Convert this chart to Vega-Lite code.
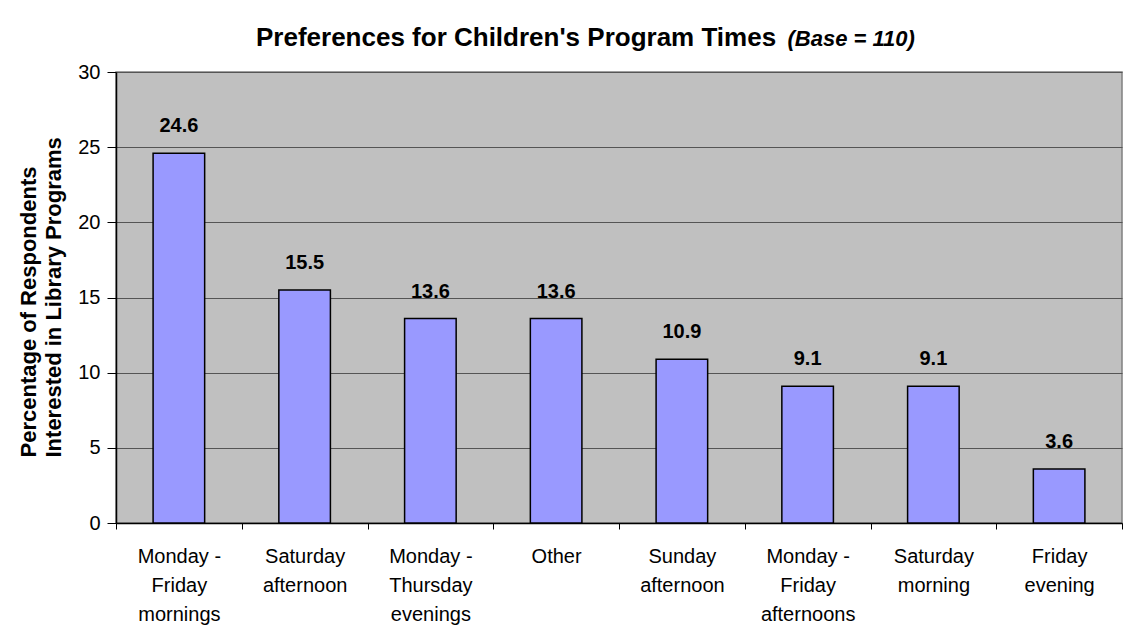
{
  "$schema": "https://vega.github.io/schema/vega-lite/v6.json",
  "autosize": "none",
  "width": 1006,
  "height": 451,
  "padding": {"left": 116, "top": 72, "right": 11, "bottom": 112},
  "background": "white",
  "title": {
    "text": "Preferences for Children's Program Times",
    "anchor": "start",
    "frame": "group",
    "dx": 140,
    "dy": 35,
    "offset": 11,
    "font": "Liberation Sans",
    "fontSize": 26,
    "fontWeight": "bold",
    "color": "black"
  },
  "data": {
    "values": [
      {"time": "Monday -|Friday|mornings", "pct": 24.6},
      {"time": "Saturday|afternoon", "pct": 15.5},
      {"time": "Monday -|Thursday|evenings", "pct": 13.6},
      {"time": "Other", "pct": 13.6},
      {"time": "Sunday|afternoon", "pct": 10.9},
      {"time": "Monday -|Friday|afternoons", "pct": 9.1},
      {"time": "Saturday|morning", "pct": 9.1},
      {"time": "Friday|evening", "pct": 3.6}
    ]
  },
  "encoding": {
    "y": {
      "field": "pct",
      "type": "quantitative",
      "scale": {"domain": [0, 30], "nice": false},
      "axis": {
        "title": ["Percentage of Respondents", "Interested in Library Programs"],
        "titleFont": "Liberation Sans",
        "titleFontSize": 22,
        "titleFontWeight": "bold",
        "titleColor": "black",
        "titleLineHeight": 25,
        "titlePadding": 12,
        "titleAlign": "left",
        "titleY": 385,
        "values": [0, 5, 10, 15, 20, 25, 30],
        "labelFont": "Liberation Sans",
        "labelFontSize": 20,
        "labelColor": "black",
        "labelPadding": 7,
        "tickSize": 9,
        "tickColor": "black",
        "domainColor": "black",
        "domainWidth": 1.5,
        "grid": true,
        "gridColor": "#555555",
        "gridWidth": 1.2
      }
    }
  },
  "layer": [
    {
      "mark": {"type": "bar", "width": {"band": 0.41}, "fill": "#9999FF", "stroke": "black", "strokeWidth": 1.5},
      "encoding": {
        "x": {
          "field": "time",
          "type": "nominal",
          "sort": null,
          "scale": {"paddingInner": 0, "paddingOuter": 0},
          "axis": {
            "orient": "bottom",
            "title": null,
            "labelAngle": 0,
            "labelExpr": "isValid(datum.value) ? split(datum.value, '|') : ''",
            "labelFont": "Liberation Sans",
            "labelFontSize": 20,
            "labelColor": "black",
            "labelLineHeight": 29,
            "labelPadding": 17,
            "labelBaseline": "top",
            "tickBand": "extent",
            "ticks": true,
            "tickSize": 6,
            "tickColor": "black",
            "domainColor": "black",
            "domainWidth": 1.5,
            "grid": false
          }
        }
      }
    },
    {
      "mark": {"type": "text", "dy": -21, "baseline": "alphabetic", "font": "Liberation Sans", "fontSize": 20, "fontWeight": "bold", "color": "black"},
      "encoding": {
        "x": {
          "field": "time",
          "type": "nominal",
          "sort": null,
          "axis": {
            "orient": "top",
            "title": "(Base = 110)",
            "titleFont": "Liberation Sans",
            "titleFontSize": 22,
            "titleFontWeight": "bold",
            "titleFontStyle": "italic",
            "titleColor": "black",
            "titleAlign": "left",
            "titleAnchor": null,
            "titleAngle": 0,
            "titleBaseline": "alphabetic",
            "titleX": 671,
            "titleY": -27,
            "labels": false,
            "ticks": false,
            "domain": false,
            "grid": false
          }
        },
        "text": {"field": "pct", "type": "quantitative", "format": ".1f"}
      }
    }
  ],
  "resolve": {"axis": {"x": "independent"}},
  "config": {
    "view": {"fill": "#C0C0C0", "stroke": "#808080", "strokeWidth": 1.5}
  }
}
